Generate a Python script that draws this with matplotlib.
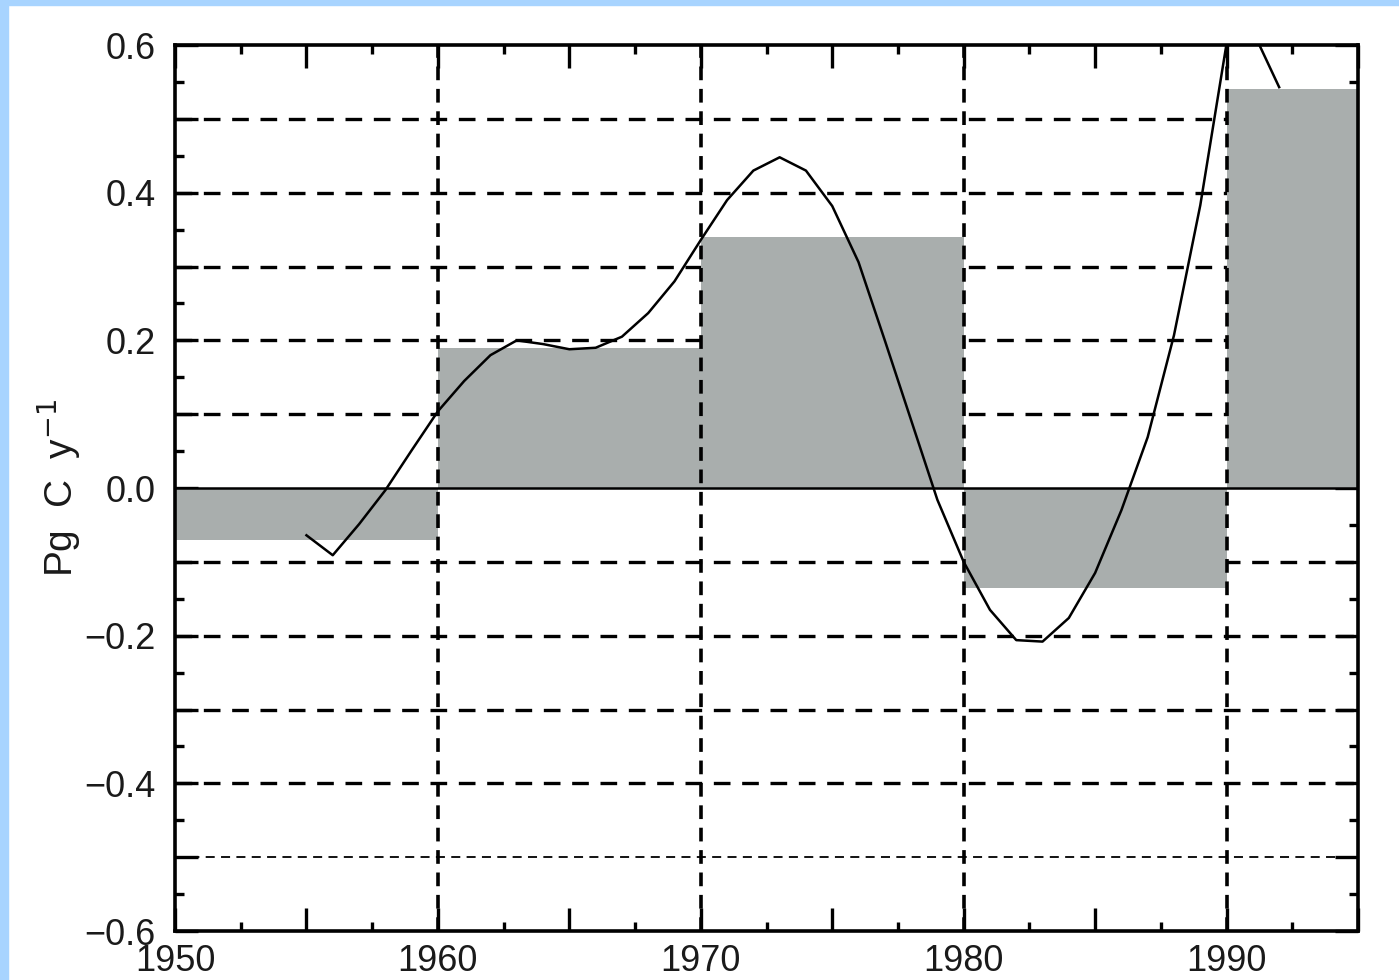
import matplotlib

matplotlib.use("Agg")

import matplotlib.pyplot as plt
import numpy as np
from matplotlib.patches import Rectangle
from matplotlib.ticker import FuncFormatter, MultipleLocator

plt.rcParams["font.family"] = ["Liberation Sans", "DejaVu Sans"]

# decadal means (bar edges and heights)
bar_edges = [1950, 1960, 1970, 1980, 1990, 1995]
bar_values = [-0.07, 0.19, 0.34, -0.135, 0.54]

# smoothed annual series
years = np.arange(1955, 1993)
values = [
    -0.064, -0.091, -0.049, -0.003, 0.051, 0.104, 0.145, 0.180, 0.200, 0.195,
    0.188, 0.190, 0.205, 0.237, 0.280, 0.336, 0.390, 0.430, 0.448, 0.430,
    0.382, 0.306, 0.200, 0.092, -0.016, -0.100, -0.165, -0.206, -0.208, -0.176,
    -0.115, -0.030, 0.069, 0.207, 0.383, 0.602, 0.619, 0.543,
]

fig = plt.figure(figsize=(13.99, 9.8), dpi=100)
fig.patches.append(Rectangle((0, 0), 8 / 1399, 1, transform=fig.transFigure,
                             color="#a8d4ff", zorder=0))
fig.patches.append(Rectangle((0, 1 - 5 / 980), 1, 5 / 980, transform=fig.transFigure,
                             color="#a8d4ff", zorder=0))
ax = fig.add_axes([0.1251, 0.05, 0.8456, 0.904])

xmin, xmax = 1950, 1995
ymin, ymax = -0.6, 0.6

# dashed grid behind the bars (horizontal) and over them (vertical)
for y in np.arange(-5, 6) / 10:
    if abs(y) < 1e-9:
        continue
    lw = 1.3 if abs(y + 0.5) < 1e-9 else 2.4
    ax.axhline(y, color="black", lw=lw, ls=(0, (5, 3.5)), zorder=1)

ax.stairs(bar_values, bar_edges, baseline=0, fill=True, color="#a9aead", zorder=2)

for x in range(1960, 1995, 10):
    ax.axvline(x, color="black", lw=2.6, ls=(0, (3.8, 2.4)), zorder=3)

ax.axhline(0, color="black", lw=1.8, zorder=4)
ax.plot(years, values, color="black", lw=1.8, zorder=5)

ax.set_xlim(xmin, xmax)
ax.set_ylim(ymin, ymax)

ax.xaxis.set_major_locator(MultipleLocator(5))
ax.xaxis.set_minor_locator(MultipleLocator(2.5))
ax.yaxis.set_major_locator(MultipleLocator(0.1))
ax.yaxis.set_minor_locator(MultipleLocator(0.05))
ax.xaxis.set_major_formatter(FuncFormatter(
    lambda v, p: f"{int(round(v))}" if round(v) % 10 == 0 else ""))
ax.yaxis.set_major_formatter(FuncFormatter(
    lambda v, p: (f"{v:.1f}".replace("-", "\u2212") if round(v * 10) % 2 == 0 else "")))

ax.tick_params(which="both", direction="in", top=True, right=True,
               labelsize=26, width=2.4, color="black", labelcolor="#1a1a1a")
ax.tick_params(which="major", length=16.5)
ax.tick_params(which="minor", length=6.5)
ax.tick_params(axis="y", which="major", pad=14)
ax.tick_params(axis="x", which="major", pad=9.5)

for side in ax.spines.values():
    side.set_linewidth(2.6)
    side.set_zorder(6)

ax.set_ylabel("Pg  C  y$^{-1}$", fontsize=28, color="#1a1a1a")
ax.yaxis.set_label_coords(-0.079, 0.5)

fig.savefig("out.png", dpi=100)
plt.close(fig)
